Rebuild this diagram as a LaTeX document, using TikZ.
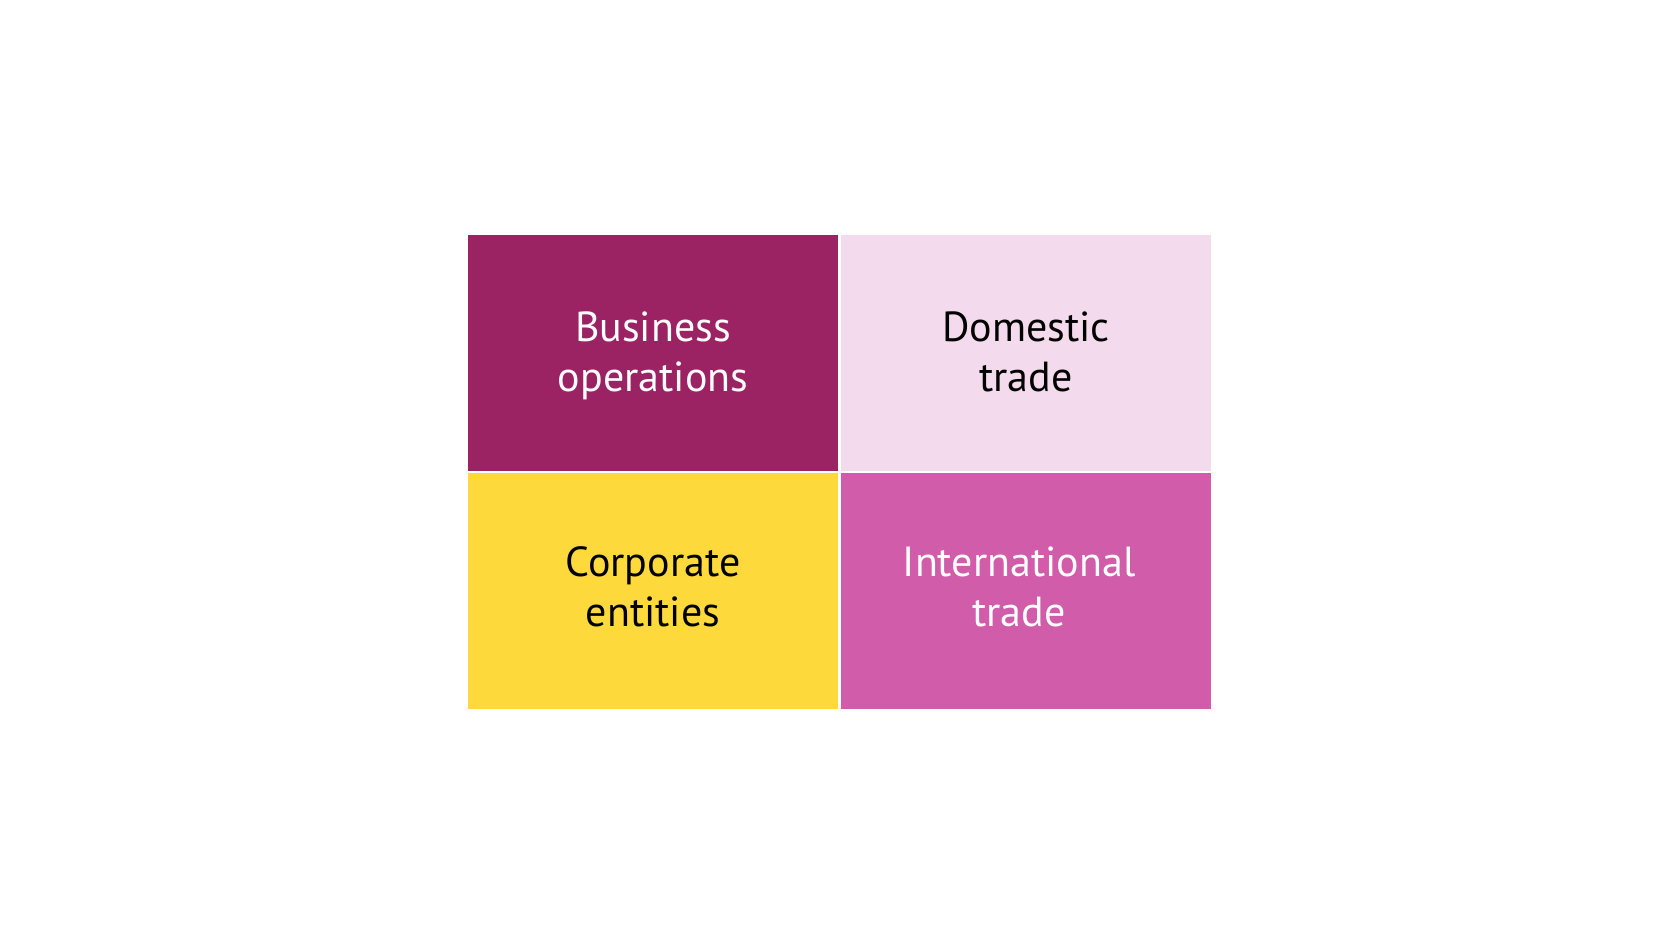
\documentclass[tikz,border=0pt]{standalone}
\usepackage{fontspec}
\setmainfont{PT Sans}
\usepackage{tikz}
\definecolor{plum}{HTML}{9B2364}
\definecolor{blush}{HTML}{F3DAEC}
\definecolor{sun}{HTML}{FDD93B}
\definecolor{orchid}{HTML}{D15CAA}

\begin{document}
\begin{tikzpicture}[x=1pt,y=1pt,
  label/.style={align=center,font=\fontsize{42}{50}\selectfont}]
  \useasboundingbox (0,0) rectangle (1680,945);
  % panels
  \fill[plum] (468,474) rectangle (838,710);
  \fill[blush] (841,474) rectangle (1211,710);
  \fill[sun] (468,236) rectangle (838,472);
  \fill[orchid] (841,236) rectangle (1211,472);
  % labels
  \node[label,text=white] (ops) at (653,589) {Business\\operations};
  \node[label,text=black] (dom) at (1026,593) {Domestic\\trade};
  \node[label,text=black] (corp) at (653,358) {Corporate\\entities};
  \node[label,text=white] (intl) at (1019,358) {International\\trade};
\end{tikzpicture}
\end{document}
